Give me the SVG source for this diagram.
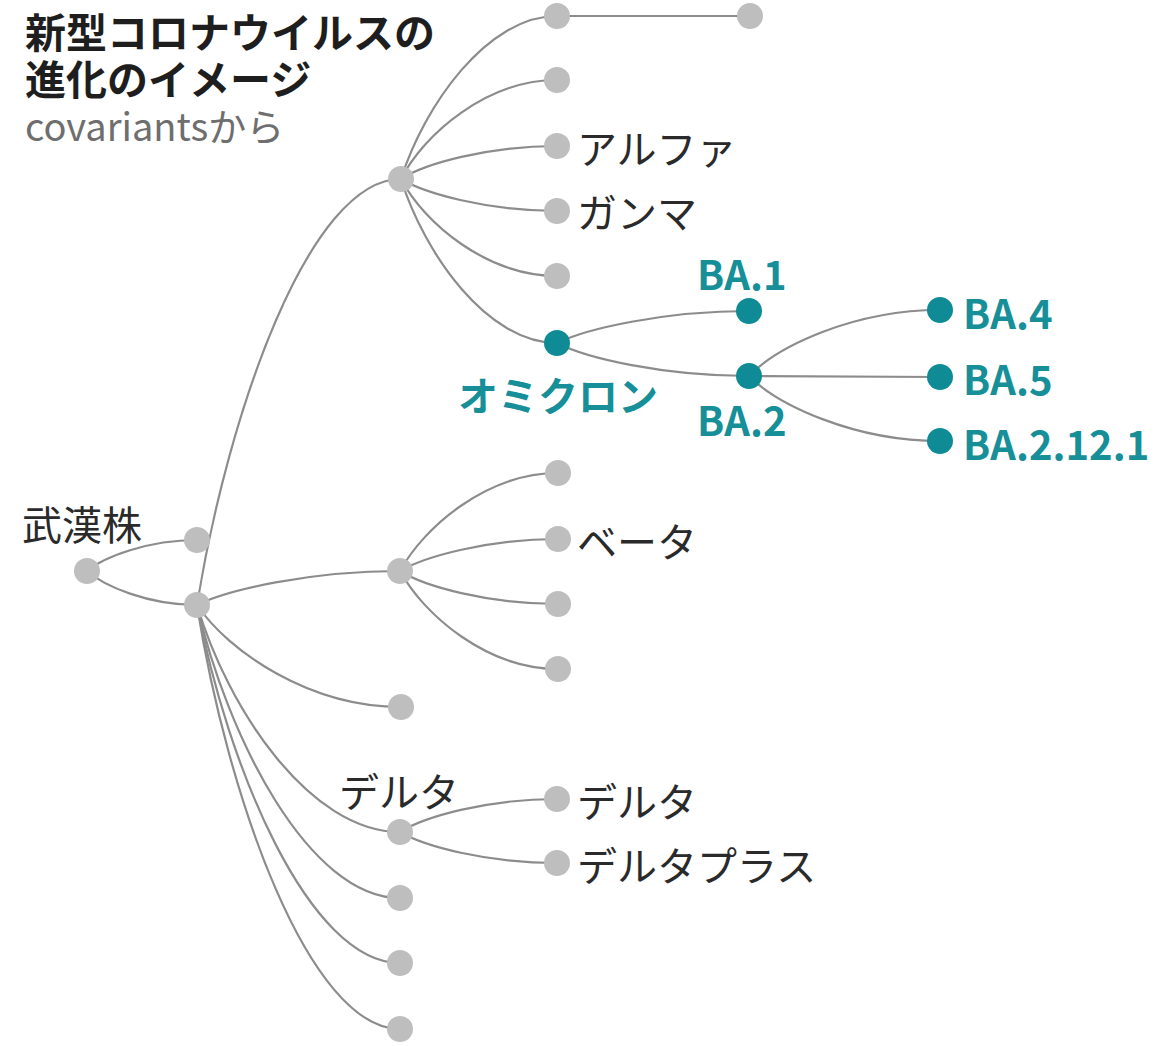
<svg xmlns="http://www.w3.org/2000/svg" width="1163" height="1046" viewBox="0 0 1163 1046">
<style>
.bg{fill:#ffffff}
.edge{fill:none;stroke:#8c8c8c;stroke-width:2.2}
.n{fill:#bebebe}
.t{fill:#0f8b95}
.lbl{font-family:"Noto Sans CJK JP","Noto Sans",sans-serif;font-size:40px;fill:#2a2a2a;dominant-baseline:central}
.tl{font-family:"Noto Sans CJK JP","Noto Sans",sans-serif;font-size:40px;font-weight:bold;fill:#168f99;dominant-baseline:central}
.title{font-family:"Noto Sans CJK JP",sans-serif;font-size:41px;font-weight:bold;fill:#1e1e1e;dominant-baseline:central}
.sub{font-family:"Noto Sans CJK JP","Noto Sans",sans-serif;font-size:38px;fill:#6e6e6e;dominant-baseline:central}
</style>
<rect class="bg" x="0" y="0" width="1163" height="1046"/>
<g id="title">
<text class="title" x="25" y="30">新型コロナウイルスの</text>
<text class="title" x="25" y="77">進化のイメージ</text>
<text class="sub" x="25" y="124">covariantsから</text>
</g>
<g id="connectors">
<path class="edge" d="M87,571 C104,557 148,540 197,540"/>
<path class="edge" d="M87,571 C104,586 148,605 197,605"/>
<path class="edge" d="M197,605 C228,413 309,179 401,179"/>
<path class="edge" d="M197,605 C227,590 309,571 400,571"/>
<path class="edge" d="M197,605 C228,651 309,707 401,707"/>
<path class="edge" d="M197,605 C227,707 309,832 400,832"/>
<path class="edge" d="M197,605 C227,737 309,898 400,898"/>
<path class="edge" d="M197,605 C227,766 309,963 400,963"/>
<path class="edge" d="M197,605 C227,796 309,1029 400,1029"/>
<path class="edge" d="M401,179 C424,106 487,16 557,16"/>
<path class="edge" d="M401,179 C424,134 487,80 557,80"/>
<path class="edge" d="M401,179 C424,164 487,146 557,146"/>
<path class="edge" d="M401,179 C424,193 487,211 557,211"/>
<path class="edge" d="M401,179 C424,223 487,276 557,276"/>
<path class="edge" d="M401,179 C424,253 487,343 557,343"/>
<path class="edge" d="M557,16 L750,16"/>
<path class="edge" d="M557,343 C586,329 663,311 749,311"/>
<path class="edge" d="M557,343 C586,358 663,376 749,376"/>
<path class="edge" d="M749,376 C778,346 854,310 940,310"/>
<path class="edge" d="M749,376 L940,377"/>
<path class="edge" d="M749,376 C778,405 854,441 940,441"/>
<path class="edge" d="M400,571 C424,527 487,473 558,473"/>
<path class="edge" d="M400,571 C424,557 487,539 558,539"/>
<path class="edge" d="M400,571 C424,586 487,604 558,604"/>
<path class="edge" d="M400,571 C424,615 487,669 558,669"/>
<path class="edge" d="M400,832 C424,817 486,799 557,799"/>
<path class="edge" d="M400,832 C424,846 486,863 557,863"/>
</g>
<g id="n-wuhan"><circle class="n" cx="87" cy="571" r="13"/><text class="lbl" x="22" y="523">武漢株</text></g>
<g id="n-a"><circle class="n" cx="197" cy="540" r="13"/></g>
<g id="n-b"><circle class="n" cx="197" cy="605" r="13"/></g>
<g id="n-top"><circle class="n" cx="401" cy="179" r="13"/></g>
<g id="n-t1"><circle class="n" cx="557" cy="16" r="13"/></g>
<g id="n-t1a"><circle class="n" cx="750" cy="16" r="13"/></g>
<g id="n-t2"><circle class="n" cx="557" cy="80" r="13"/></g>
<g id="n-alpha"><circle class="n" cx="557" cy="146" r="13"/><text class="lbl" x="577" y="147">アルファ</text></g>
<g id="n-gamma"><circle class="n" cx="557" cy="211" r="13"/><text class="lbl" x="577" y="211">ガンマ</text></g>
<g id="n-t5"><circle class="n" cx="557" cy="276" r="13"/></g>
<g id="n-omicron"><circle class="t" cx="557" cy="343" r="13"/><text class="tl" x="458" y="394">オミクロン</text></g>
<g id="n-ba1"><circle class="t" cx="749" cy="311" r="13"/><text class="tl" x="697" y="273">BA.1</text></g>
<g id="n-ba2"><circle class="t" cx="749" cy="376" r="13"/><text class="tl" x="697" y="419">BA.2</text></g>
<g id="n-ba4"><circle class="t" cx="940" cy="310" r="13"/><text class="tl" x="963" y="312">BA.4</text></g>
<g id="n-ba5"><circle class="t" cx="940" cy="377" r="13"/><text class="tl" x="963" y="378">BA.5</text></g>
<g id="n-ba2121"><circle class="t" cx="940" cy="441" r="13"/><text class="tl" x="963" y="443">BA.2.12.1</text></g>
<g id="n-mid"><circle class="n" cx="400" cy="571" r="13"/></g>
<g id="n-m1"><circle class="n" cx="558" cy="473" r="13"/></g>
<g id="n-beta"><circle class="n" cx="558" cy="539" r="13"/><text class="lbl" x="577" y="540">ベータ</text></g>
<g id="n-m3"><circle class="n" cx="558" cy="604" r="13"/></g>
<g id="n-m4"><circle class="n" cx="558" cy="669" r="13"/></g>
<g id="n-b3"><circle class="n" cx="401" cy="707" r="13"/></g>
<g id="n-delta-hub"><circle class="n" cx="400" cy="832" r="13"/><text class="lbl" x="339" y="790">デルタ</text></g>
<g id="n-delta"><circle class="n" cx="557" cy="799" r="13"/><text class="lbl" x="577" y="800">デルタ</text></g>
<g id="n-deltaplus"><circle class="n" cx="557" cy="863" r="13"/><text class="lbl" x="577" y="864">デルタプラス</text></g>
<g id="n-b5"><circle class="n" cx="400" cy="898" r="13"/></g>
<g id="n-b6"><circle class="n" cx="400" cy="963" r="13"/></g>
<g id="n-b7"><circle class="n" cx="400" cy="1029" r="13"/></g>
</svg>
